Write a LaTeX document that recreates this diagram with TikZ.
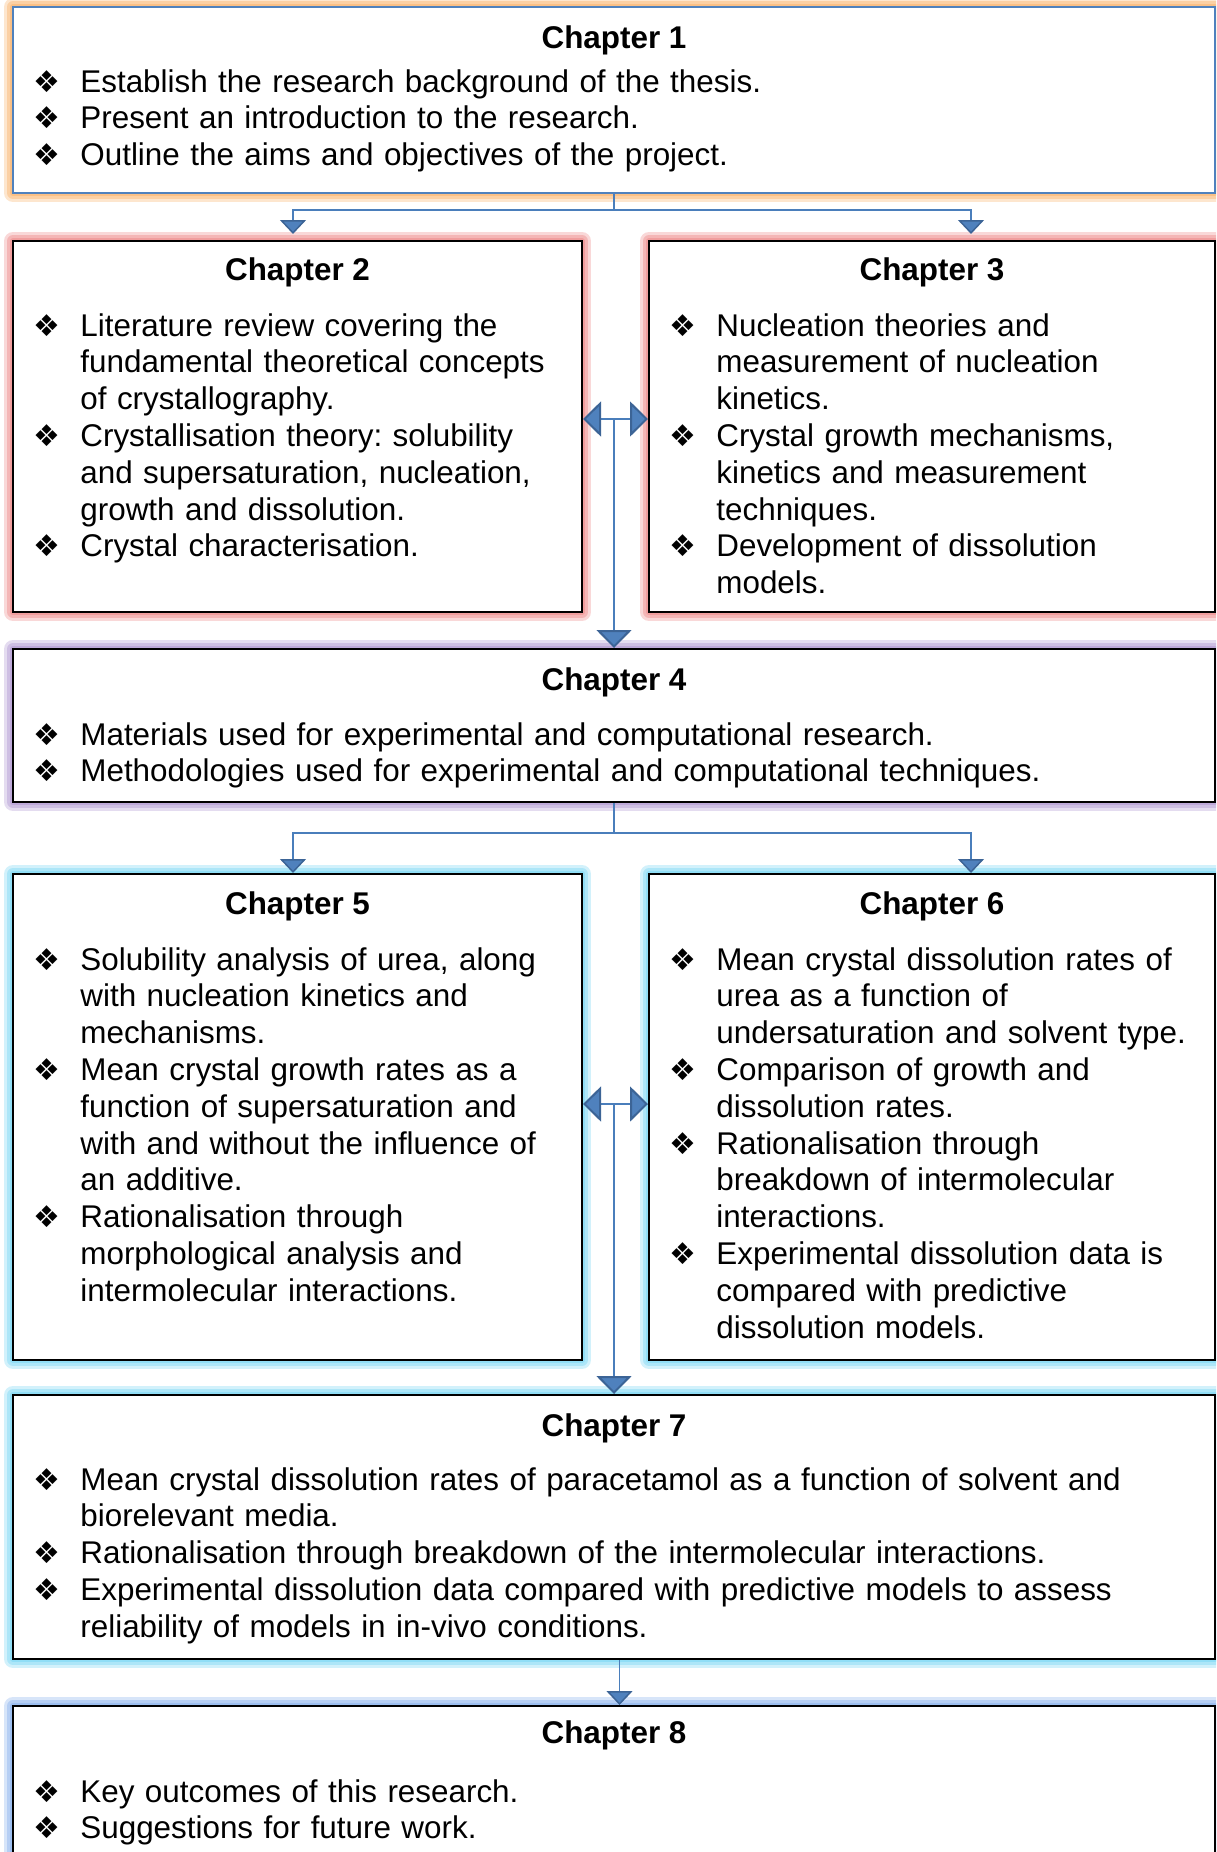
\documentclass[tikz,border=0pt]{standalone}
\usepackage{fontspec}
\setmainfont{Liberation Sans}
\newfontfamily\symfont{DejaVu Sans}
\usetikzlibrary{arrows.meta,calc}
\definecolor{linkblue}{HTML}{4A7EBB}
\definecolor{tipfill}{HTML}{4F81BD}
\definecolor{tipline}{HTML}{3C6496}
\definecolor{frameblue}{HTML}{4F81BD}
\definecolor{gloworange}{HTML}{F9B672}
\definecolor{glowred}{HTML}{EE8E8E}
\definecolor{glowpurple}{HTML}{B39BD3}
\definecolor{glowcyan}{HTML}{7FD8F4}
\definecolor{glowblue}{HTML}{8DB4EE}
\frenchspacing
\newcommand\body{\fontsize{15.7}{18.4}\selectfont}
\newcommand\itm{\leavevmode\llap{\makebox[11pt]{\symfont\fontsize{15}{15}\selectfont ❖}\hspace{11pt}}}
\tikzset{
  glow/.style={preaction={draw=#1,line width=9pt,draw opacity=.35,line join=round},
               preaction={draw=#1,line width=6pt,draw opacity=.45,line join=round},
               preaction={draw=#1,line width=3pt,draw opacity=.6,line join=round}},
  chapbox/.style={line width=1pt,fill=white,inner sep=0,anchor=north west,glow=#1},
  title/.style={anchor=base,inner sep=0,font=\body\bfseries},
  bodytext/.style={anchor=base west,inner sep=0,font=\body,align=left,text width=560pt},
  conn/.style={draw=linkblue,line width=.75pt},
  stem/.style={draw=linkblue,line width=1pt},
  smalltip/.style={-{Triangle[width=13pt,length=7pt,color=tipline,fill=tipfill]}},
  bigtip/.style={-{Triangle[width=17.5pt,length=9pt,color=tipline,fill=tipfill]}},
  twotips/.style={{Triangle[width=17.5pt,length=9pt,color=tipline,fill=tipfill]}-{Triangle[width=17.5pt,length=9pt,color=tipline,fill=tipfill]}}
}
\begin{document}
\begin{tikzpicture}[x=0.5pt,y=-0.5pt,every node/.style={text=black}]
\useasboundingbox (0,0) rectangle (1216,1852);
\clip (0,0) rectangle (1216,1852);
% chapter frames
\foreach \n/\x/\y/\w/\h/\g/\b in {ch1/12/6/1202/186/gloworange/frameblue,
    ch2/12/240/569/371/glowred/black, ch3/648/240/566/371/glowred/black,
    ch4/12/648/1202/153/glowpurple/black,
    ch5/12/873/569/486/glowcyan/black, ch6/648/873/566/486/glowcyan/black,
    ch7/12/1394/1202/264/glowcyan/black, ch8/12/1705/1202/200/glowblue/black}
  \node[chapbox=\g,draw=\b,minimum width={\w*0.5pt},minimum height={\h*0.5pt}] (\n) at (\x,\y) {};
% chapter 1
\node[title] at ($(ch1.north)+(0,42)$) {Chapter 1};
\node[bodytext] at ($(ch1.north west)+(68,86)$) {\itm Establish the research background of the thesis.\\
  \itm Present an introduction to the research.\\
  \itm Outline the aims and objectives of the project.};
% chapters 2 and 3
\node[title] at ($(ch2.north)+(0,40)$) {Chapter 2};
\node[bodytext] at ($(ch2.north west)+(68,96)$) {\itm Literature review covering the\\
  fundamental theoretical concepts\\ of crystallography.\\
  \itm Crystallisation theory: solubility\\ and supersaturation, nucleation,\\ growth and dissolution.\\
  \itm Crystal characterisation.};
\node[title] at ($(ch3.north)+(0,40)$) {Chapter 3};
\node[bodytext] at ($(ch3.north west)+(68,96)$) {\itm Nucleation theories and\\
  measurement of nucleation\\ kinetics.\\
  \itm Crystal growth mechanisms,\\ kinetics and measurement\\ techniques.\\
  \itm Development of dissolution\\ models.};
% chapter 4
\node[title] at ($(ch4.north)+(0,42)$) {Chapter 4};
\node[bodytext] at ($(ch4.north west)+(68,97)$) {\itm Materials used for experimental and computational research.\\
  \itm Methodologies used for experimental and computational techniques.};
% chapters 5 and 6
\node[title] at ($(ch5.north)+(0,41)$) {Chapter 5};
\node[bodytext] at ($(ch5.north west)+(68,97)$) {\itm Solubility analysis of urea, along\\
  with nucleation kinetics and\\ mechanisms.\\
  \itm Mean crystal growth rates as a\\ function of supersaturation and\\
  with and without the influence of\\ an additive.\\
  \itm Rationalisation through\\ morphological analysis and\\ intermolecular interactions.};
\node[title] at ($(ch6.north)+(0,41)$) {Chapter 6};
\node[bodytext] at ($(ch6.north west)+(68,97)$) {\itm Mean crystal dissolution rates of\\
  urea as a function of\\ undersaturation and solvent type.\\
  \itm Comparison of growth and\\ dissolution rates.\\
  \itm Rationalisation through\\ breakdown of intermolecular\\ interactions.\\
  \itm Experimental dissolution data is\\ compared with predictive\\ dissolution models.};
% chapter 7
\node[title] at ($(ch7.north)+(0,42)$) {Chapter 7};
\node[bodytext] at ($(ch7.north west)+(68,96)$) {\itm Mean crystal dissolution rates of paracetamol as a function of solvent and\\
  biorelevant media.\\
  \itm Rationalisation through breakdown of the intermolecular interactions.\\
  \itm Experimental dissolution data compared with predictive models to assess\\
  reliability of models in in-vivo conditions.};
% chapter 8
\node[title] at ($(ch8.north)+(0,38)$) {Chapter 8};
\node[bodytext] at ($(ch8.north west)+(68,97)$) {\itm Key outcomes of this research.\\
  \itm Suggestions for future work.};
% links
\draw[conn] (ch1.south) -- ++(0,16) coordinate (fork1);
\draw[conn,smalltip,shorten >=3pt] (fork1) -| ([xshift=-2.25pt]ch2.north);
\draw[conn,smalltip,shorten >=3pt] (fork1) -| ([xshift=19.5pt]ch3.north);
\path ([yshift=3.75pt]ch2.east) coordinate (l23) ([yshift=3.75pt]ch3.west) coordinate (r23);
\draw[stem,twotips] (l23) -- (r23);
\draw[stem,bigtip] (ch4.north |- l23) -- (ch4.north);
\draw[conn] (ch4.south) -- ++(0,30) coordinate (fork4);
\draw[conn,smalltip] (fork4) -| ([xshift=-2.25pt]ch5.north);
\draw[conn,smalltip] (fork4) -| ([xshift=19.5pt]ch6.north);
\path ([yshift=6.5pt]ch5.east) coordinate (l56) ([yshift=6.5pt]ch6.west) coordinate (r56);
\draw[stem,twotips] (l56) -- (r56);
\draw[stem,bigtip] (ch7.north |- l56) -- (ch7.north);
\draw[conn,smalltip] ([xshift=2.75pt]ch7.south) -- ([xshift=2.75pt]ch8.north);
\end{tikzpicture}
\end{document}
